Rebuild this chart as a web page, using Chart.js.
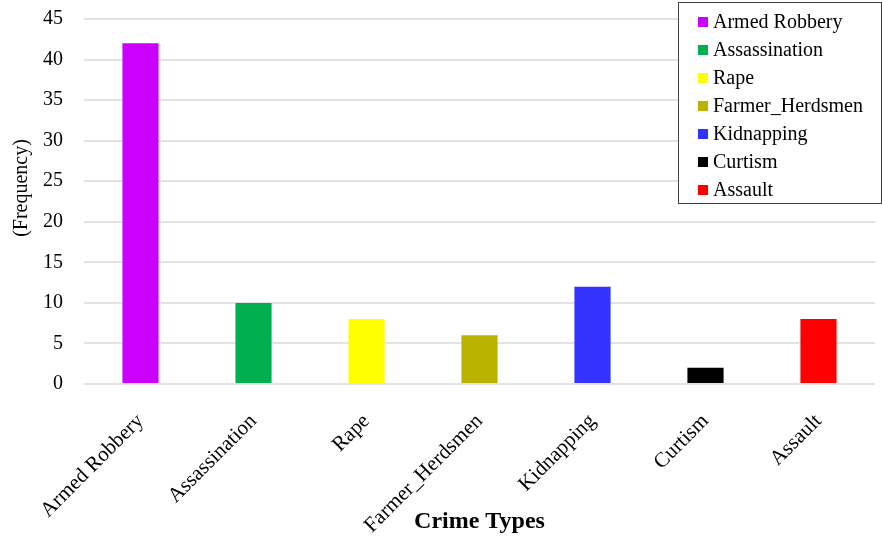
<!DOCTYPE html>
<html>
<head>
<meta charset="utf-8">
<script src="https://cdn.jsdelivr.net/npm/chart.js@4/dist/chart.umd.min.js"></script>
<style>
  html, body { margin: 0; padding: 0; background: #ffffff; }
  #wrap { width: 882px; height: 538px; }
</style>
</head>
<body>
<div id="wrap"><canvas id="c" width="882" height="538"></canvas></div>
<script>
// Crime categories and how often each was reported
const categories = ['Armed Robbery', 'Assassination', 'Rape', 'Farmer_Herdsmen', 'Kidnapping', 'Curtism', 'Assault'];
const frequency = [42, 10, 8, 6, 12, 2, 8];
const barColors = ['#CC00FF', '#00B050', '#FFFF00', '#BAB300', '#3333FF', '#000000', '#FF0000'];
const yTicks = [0, 5, 10, 15, 20, 25, 30, 35, 40, 45];
const yTitle = '(Frequency)';

const SERIF = '"Liberation Serif", "Times New Roman", serif';

// Boxed key in the top-right corner, one entry per category,
// plus the rotated value-axis caption
const cornerKey = {
  id: 'cornerKey',
  afterDatasetsDraw(chart) {
    const ctx = chart.ctx;
    const x0 = 678.5, y0 = 2.5, w = 203, h = 201;
    ctx.save();
    ctx.fillStyle = '#ffffff';
    ctx.fillRect(x0, y0, w, h);
    ctx.strokeStyle = '#404040';
    ctx.lineWidth = 1;
    ctx.strokeRect(x0, y0, w, h);
    ctx.font = '20px ' + SERIF;
    ctx.textBaseline = 'middle';
    ctx.textAlign = 'left';
    categories.forEach((name, i) => {
      const cy = 22 + i * 28;
      ctx.fillStyle = barColors[i];
      ctx.fillRect(698, cy - 5, 10, 10);
      ctx.fillStyle = '#000000';
      ctx.fillText(name, 713, cy + 1);
    });

    // value-axis caption
    ctx.translate(22, 188);
    ctx.rotate(-Math.PI / 2);
    ctx.textAlign = 'center';
    ctx.fillStyle = '#000000';
    ctx.fillText(yTitle, 0, 0);
    ctx.restore();
  }
};

new Chart(document.getElementById('c'), {
  type: 'bar',
  data: {
    labels: categories,
    datasets: [{
      label: yTitle,
      data: frequency,
      backgroundColor: barColors,
      borderWidth: 0,
      barPercentage: 0.64,
      categoryPercentage: 0.5
    }]
  },
  options: {
    responsive: false,
    devicePixelRatio: 1,
    animation: false,
    layout: { padding: { top: 19, right: 7, bottom: 0, left: 0 } },
    plugins: {
      legend: { display: false },
      tooltip: { enabled: false }
    },
    scales: {
      x: {
        grid: { display: false },
        border: { display: false },
        ticks: {
          color: '#000000',
          font: { family: SERIF, size: 21 },
          minRotation: 45,
          maxRotation: 45,
          padding: 17,
          autoSkip: false
        },
        title: {
          display: true,
          text: 'Crime Types',
          color: '#000000',
          font: { family: SERIF, size: 24, weight: 'bold' },
          padding: { top: 0, bottom: 2 }
        },
        afterFit(scale) { scale.height = 154; }
      },
      y: {
        min: 0,
        max: 45,
        afterBuildTicks(scale) { scale.ticks = yTicks.map(v => ({ value: v })); },
        grid: {
          color: '#e3e3e3',
          lineWidth: 2,
          drawTicks: true,
          tickLength: 21,
          tickColor: 'rgba(0,0,0,0)'
        },
        border: { display: false },
        ticks: {
          color: '#000000',
          font: { family: SERIF, size: 20 },
          padding: 0
        },
        title: { display: false },
        afterFit(scale) { scale.width = 84; }
      }
    }
  },
  plugins: [cornerKey]
});
</script>
</body>
</html>
